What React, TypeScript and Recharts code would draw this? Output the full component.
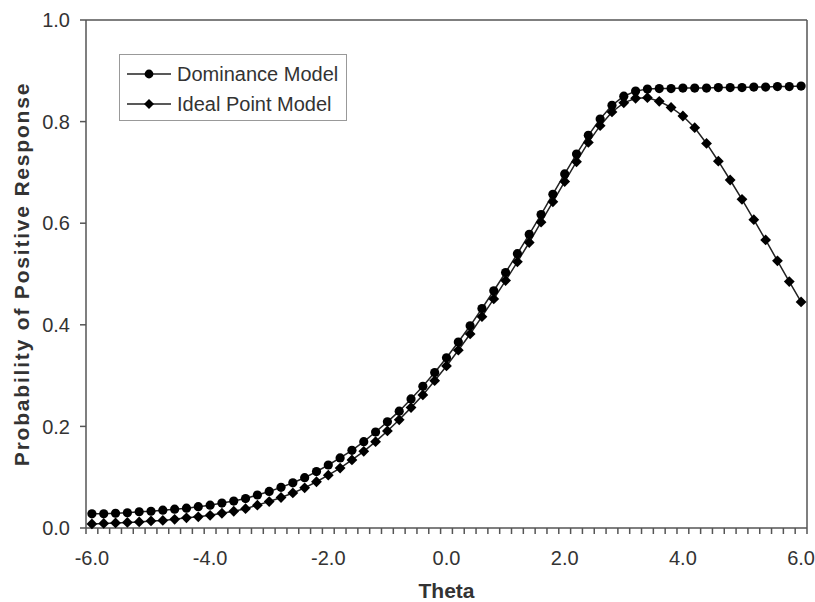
import { LineChart, Line, XAxis, YAxis, ReferenceLine, Label } from 'recharts'

const theta = [
  -6.0, -5.8, -5.6, -5.4, -5.2, -5.0, -4.8, -4.6, -4.4, -4.2,
  -4.0, -3.8, -3.6, -3.4, -3.2, -3.0, -2.8, -2.6, -2.4, -2.2,
  -2.0, -1.8, -1.6, -1.4, -1.2, -1.0, -0.8, -0.6, -0.4, -0.2,
  0.0, 0.2, 0.4, 0.6, 0.8, 1.0, 1.2, 1.4, 1.6, 1.8,
  2.0, 2.2, 2.4, 2.6, 2.8, 3.0, 3.2, 3.4, 3.6, 3.8,
  4.0, 4.2, 4.4, 4.6, 4.8, 5.0, 5.2, 5.4, 5.6, 5.8,
  6.0,
]

const dominance = [
  0.028, 0.028, 0.029, 0.030, 0.032, 0.033, 0.035, 0.037, 0.039, 0.042,
  0.045, 0.049, 0.053, 0.058, 0.065, 0.072, 0.080, 0.089, 0.099, 0.111,
  0.124, 0.138, 0.153, 0.170, 0.189, 0.209, 0.230, 0.254, 0.279, 0.306,
  0.335, 0.366, 0.398, 0.432, 0.467, 0.503, 0.540, 0.578, 0.617, 0.657,
  0.697, 0.736, 0.773, 0.805, 0.832, 0.850, 0.860, 0.864, 0.865, 0.865,
  0.866, 0.866, 0.866, 0.867, 0.867, 0.867, 0.868, 0.868, 0.869, 0.869,
  0.870,
]

const idealPoint = [
  0.008, 0.009, 0.010, 0.011, 0.012, 0.014, 0.015, 0.017, 0.020, 0.022,
  0.025, 0.029, 0.033, 0.038, 0.045, 0.052, 0.060, 0.069, 0.079, 0.091,
  0.104, 0.118, 0.134, 0.151, 0.170, 0.191, 0.213, 0.237, 0.262, 0.290,
  0.319, 0.350, 0.382, 0.416, 0.451, 0.487, 0.524, 0.562, 0.602, 0.642,
  0.682, 0.721, 0.759, 0.792, 0.819, 0.837, 0.846, 0.847, 0.840, 0.828,
  0.811, 0.788, 0.757, 0.722, 0.685, 0.647, 0.607, 0.567, 0.526, 0.485,
  0.445,
]

const xLabelTicks = [-6, -4, -2, 0, 2, 4, 6]
const yTicks = [0, 0.2, 0.4, 0.6, 0.8, 1.0]

const data = theta.map((t, i) => ({ theta: t, dominance: dominance[i], ideal: idealPoint[i] }))
// excel-style category boundaries: ticks sit between the points
const minorTicks = [...theta.map(t => +(t - 0.1).toFixed(1)), 6.1]

const FONT = '"Liberation Sans", Arial, Helvetica, sans-serif'
const AXIS = '#555'
const TEXT = '#333'

const CircleDot = (props: any) => {
  const { cx, cy, index } = props
  if (cx == null || cy == null) return null
  return <circle key={`c-${index}`} cx={cx} cy={cy} r={4.6} fill="#000" />
}

const DiamondDot = (props: any) => {
  const { cx, cy, index } = props
  if (cx == null || cy == null) return null
  const s = 5.4
  return (
    <path
      key={`d-${index}`}
      d={`M${cx},${cy - s}L${cx + s},${cy}L${cx},${cy + s}L${cx - s},${cy}Z`}
      fill="#000"
    />
  )
}

const NoTick = () => <g />

function LegendBox() {
  const row = (label: string, diamond: boolean) => (
    <div style={{ display: 'flex', alignItems: 'center', height: 30 }}>
      <svg width={50} height={14} style={{ marginLeft: 7 }}>
        <line x1={0} y1={7} x2={44} y2={7} stroke="#222" strokeWidth={1.5} />
        {diamond ? (
          <path d="M22,2L27,7L22,12L17,7Z" fill="#000" />
        ) : (
          <circle cx={22} cy={7} r={4.4} fill="#000" />
        )}
      </svg>
      <span style={{ fontSize: 20, color: TEXT, whiteSpace: 'nowrap' }}>{label}</span>
    </div>
  )
  return (
    <div
      style={{
        position: 'absolute',
        left: 119,
        top: 54,
        width: 228,
        height: 67,
        border: '1.5px solid #999',
        background: '#fff',
        fontFamily: FONT,
        paddingTop: 4,
        boxSizing: 'border-box',
      }}
    >
      {row('Dominance Model', false)}
      {row('Ideal Point Model', true)}
    </div>
  )
}

export default function App() {
  return (
    <div style={{ position: 'absolute', left: 0, top: 0, width: 815, height: 602, background: '#fff', fontFamily: FONT }}>
      <LineChart width={815} height={602} data={data} margin={{ top: 20, right: 8, bottom: 0, left: 0 }}>
        <XAxis
          xAxisId="b"
          dataKey="theta"
          type="number"
          domain={[-6.1, 6.1]}
          ticks={xLabelTicks}
          tickFormatter={(v: number) => v.toFixed(1)}
          tickLine={false}
          axisLine={false}
          tickSize={6}
          tickMargin={11}
          height={68}
          interval={0}
          tick={{ fill: TEXT, fontSize: 20, fontFamily: FONT }}
        >
          <Label
            content={(p: any) => {
              const vb = p.viewBox || { x: 86, width: 721 }
              return (
                <text
                  x={vb.x + vb.width / 2}
                  y={598}
                  textAnchor="middle"
                  fontSize={21}
                  fontWeight="bold"
                  fill={TEXT}
                  fontFamily={FONT}
                >
                  Theta
                </text>
              )
            }}
          />
        </XAxis>
        <XAxis
          xAxisId="a"
          dataKey="theta"
          type="number"
          domain={[-6.1, 6.1]}
          ticks={minorTicks}
          tick={NoTick}
          tickSize={6}
          height={6}
          stroke={AXIS}
          strokeWidth={1.5}
          interval={0}
          allowDataOverflow
        />
        <YAxis
          type="number"
          domain={[0, 1]}
          ticks={yTicks}
          width={86}
          tickSize={6}
          tickMargin={10}
          stroke={AXIS}
          strokeWidth={1.5}
          tickFormatter={(v: number) => v.toFixed(1)}
          tick={{ fill: TEXT, fontSize: 20, fontFamily: FONT }}
          interval={0}
        >
          <Label
            content={() => (
              <text
                x={21}
                y={274}
                transform="rotate(-90 21 274)"
                textAnchor="middle"
                dominantBaseline="central"
                fontSize={21}
                fontWeight="bold"
                letterSpacing={1.8}
                fill={TEXT}
                fontFamily={FONT}
              >
                Probability of Positive Response
              </text>
            )}
          />
        </YAxis>
        <ReferenceLine xAxisId="a" y={1} stroke={AXIS} strokeWidth={1.5} ifOverflow="extendDomain" />
        <ReferenceLine xAxisId="a" x={6.1} stroke={AXIS} strokeWidth={1.5} ifOverflow="extendDomain" />
        <Line
          xAxisId="a"
          dataKey="dominance"
          stroke="#222"
          strokeWidth={1.5}
          dot={CircleDot}
          activeDot={false}
          isAnimationActive={false}
        />
        <Line
          xAxisId="a"
          dataKey="ideal"
          stroke="#222"
          strokeWidth={1.5}
          dot={DiamondDot}
          activeDot={false}
          isAnimationActive={false}
        />
      </LineChart>
      <LegendBox />
    </div>
  )
}
